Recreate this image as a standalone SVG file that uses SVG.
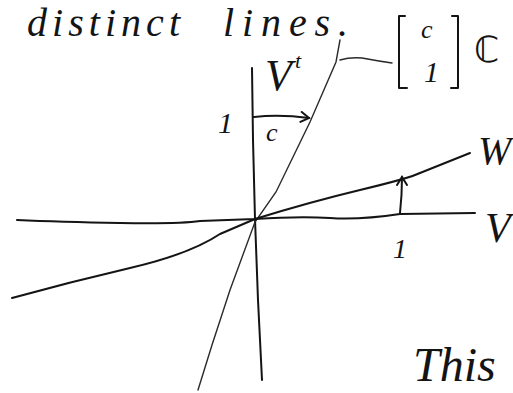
<svg xmlns="http://www.w3.org/2000/svg" width="513" height="393" viewBox="0 0 513 393">
<defs>
<style>
.ln{fill:none;stroke:#141414;stroke-width:2;stroke-linecap:round;stroke-linejoin:round}
.thin{fill:none;stroke:#2a2a2a;stroke-width:1.4;stroke-linecap:round}
.hw{font-family:"Liberation Serif","DejaVu Serif",serif;font-style:italic;fill:#141414}
</style>
<marker id="ah" viewBox="0 0 12 12" refX="10" refY="6" markerWidth="12" markerHeight="12" markerUnits="userSpaceOnUse" orient="auto">
<path d="M2,1 L10,6 L2,11" fill="none" stroke="#141414" stroke-width="2" stroke-linecap="round"/>
</marker>
</defs>
<rect width="513" height="393" fill="#fff"/>
<text class="hw" x="27" y="36" font-size="40"><tspan textLength="153" lengthAdjust="spacing">distinct</tspan><tspan x="223" textLength="125" lengthAdjust="spacing">lines.</tspan></text>
<g id="lines">
<path id="vert" class="ln" d="M252,68 L253,140 L255,219 L258,300 L261,360 L262,380"/>
<path id="steep" class="thin" d="M340,40 L336,62 L310,122 L276,192 L255,222 L230,290 L212,345 L198,390"/>
<path id="Vline" class="ln" d="M17,220 Q60,222 120,223 T200,221 L255,219 Q300,216 330,218 T400,214 L475,213"/>
<path id="Wline" class="ln" d="M12,298 Q70,282 130,268 T220,234 L255,219 Q310,202 360,190 T420,173 L470,153"/>
</g>
<g id="connectors">
<path id="arrow-c" class="ln" d="M253,117 Q280,114 309,118" marker-end="url(#ah)"/>
<path id="arrow-1" class="ln" d="M400,213 Q402,195 402,177" marker-end="url(#ah)"/>
<path id="leader" class="thin" d="M340,60 Q350,57 362,58 Q378,61 392,63"/>
</g>
<g id="labels">
<text class="hw" x="265" y="90" font-size="44">V</text>
<text class="hw" x="295" y="68" font-size="22">t</text>
<text class="hw" x="218" y="133" font-size="30">1</text>
<text class="hw" x="266" y="141" font-size="26">c</text>
<g id="vec">
<path class="ln" d="M405,16 L399,16 L399,88 L407,88"/>
<path class="ln" d="M452,16 L458,16 L458,88 L451,88"/>
<text class="hw" x="421" y="38" font-size="26">c</text>
<text class="hw" x="424" y="82" font-size="30">1</text>
</g>
<text x="474" y="62" font-size="36" font-family="'DejaVu Sans','Liberation Sans',sans-serif" fill="#141414">ℂ</text>
<text class="hw" x="478" y="164" font-size="40">W</text>
<text class="hw" x="485" y="242" font-size="42">V</text>
<text class="hw" x="393" y="258" font-size="28">1</text>
<text class="hw" x="413" y="381" font-size="48">This</text>
</g>
</svg>
